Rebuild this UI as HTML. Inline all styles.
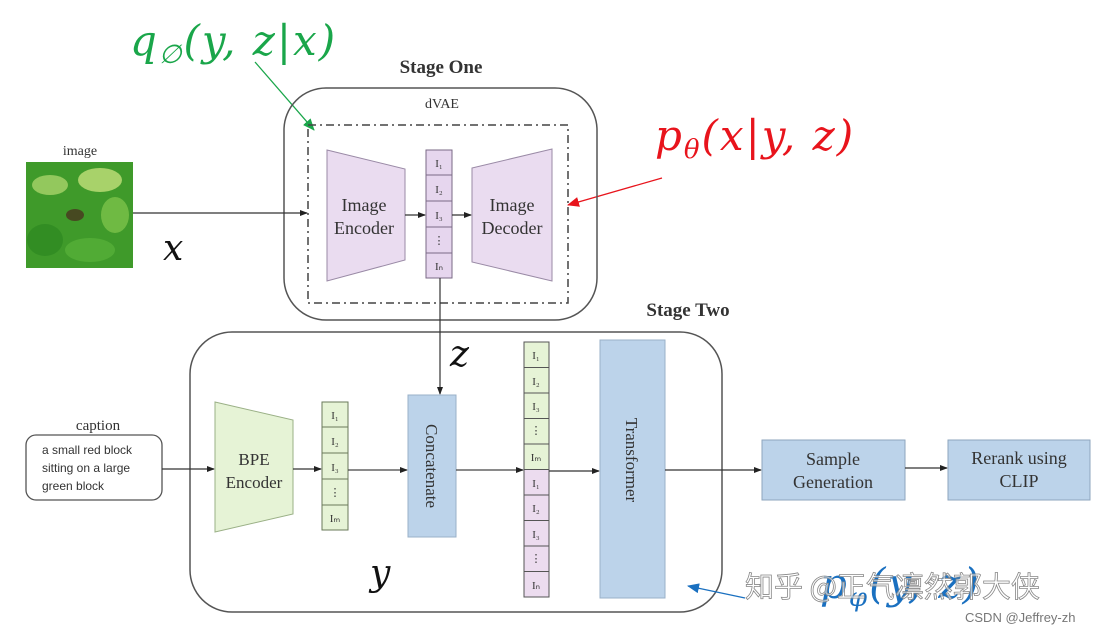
<!DOCTYPE html>
<html><head><meta charset="utf-8"><style>
html,body{margin:0;padding:0;background:#fff;}
svg{display:block;}
.s{font-family:"Liberation Serif",serif;fill:#333;}
.m{font-family:"DejaVu Serif","Liberation Serif",serif;font-style:italic;}
</style></head><body>
<svg width="1106" height="633" viewBox="0 0 1106 633" xmlns="http://www.w3.org/2000/svg">
<defs>
<marker id="a" markerWidth="8" markerHeight="8" refX="7" refY="4" orient="auto" markerUnits="userSpaceOnUse"><path d="M0,1 L8,4 L0,7z" fill="#222"/></marker>
<marker id="g" markerWidth="12" markerHeight="12" refX="11" refY="6" orient="auto" markerUnits="userSpaceOnUse"><path d="M0,1 L12,6 L0,11z" fill="#1aa64a"/></marker>
<marker id="r" markerWidth="12" markerHeight="12" refX="11" refY="6" orient="auto" markerUnits="userSpaceOnUse"><path d="M0,1 L12,6 L0,11z" fill="#e8141c"/></marker>
<marker id="b" markerWidth="12" markerHeight="12" refX="11" refY="6" orient="auto" markerUnits="userSpaceOnUse"><path d="M0,1 L12,6 L0,11z" fill="#1a70c0"/></marker>
</defs>

<text x="130" y="55" class="m" font-size="42" letter-spacing="2" fill="#1aa64a">q<tspan font-size="26" dy="8">∅</tspan><tspan dy="-8">(y, z|x)</tspan></text>
<line x1="255" y1="62" x2="314" y2="130" stroke="#1aa64a" stroke-width="1.3" marker-end="url(#g)"/>
<text x="655" y="150" class="m" font-size="42" letter-spacing="2" fill="#e8141c">p<tspan font-size="26" dy="8">θ</tspan><tspan dy="-8">(x|y, z)</tspan></text>
<line x1="662" y1="178" x2="568" y2="205" stroke="#e8141c" stroke-width="1.3" marker-end="url(#r)"/>

<text x="441" y="73" class="s" font-size="19" font-weight="bold" text-anchor="middle" fill="#222">Stage One</text>
<rect x="284" y="88" width="313" height="232" rx="42" fill="none" stroke="#555" stroke-width="1.5"/>
<text x="442" y="108" class="s" font-size="14" text-anchor="middle">dVAE</text>
<rect x="308" y="125" width="260" height="178" fill="none" stroke="#444" stroke-width="1.5" stroke-dasharray="8,4,2,4"/>
<polygon points="327,150 405,169 405,260 327,281" fill="#eadcf0" stroke="#9a8aa6"/>
<text x="364" y="211" class="s" font-size="18" text-anchor="middle">Image</text>
<text x="364" y="234" class="s" font-size="18" text-anchor="middle">Encoder</text>
<polygon points="472,168 552,149 552,281 472,262" fill="#eadcf0" stroke="#9a8aa6"/>
<text x="512" y="211" class="s" font-size="18" text-anchor="middle">Image</text>
<text x="512" y="234" class="s" font-size="18" text-anchor="middle">Decoder</text>
<g stroke="#7a6a86" fill="#e6d6ee">
<rect x="426" y="150" width="26" height="25"/><rect x="426" y="175" width="26" height="26"/><rect x="426" y="201" width="26" height="26"/><rect x="426" y="227" width="26" height="26"/><rect x="426" y="253" width="26" height="25"/>
</g>
<g class="s" font-size="11" text-anchor="middle"><text x="439" y="167">I₁</text><text x="439" y="193">I₂</text><text x="439" y="219">I₃</text><text x="439" y="244">⋮</text><text x="439" y="270">Iₙ</text></g>

<rect x="26" y="162" width="107" height="106" fill="#3f9a2a"/>
<g opacity="0.8">
<ellipse cx="50" cy="185" rx="18" ry="10" fill="#a9d46a"/><ellipse cx="100" cy="180" rx="22" ry="12" fill="#c3e07a"/><ellipse cx="115" cy="215" rx="14" ry="18" fill="#7cc24a"/><ellipse cx="45" cy="240" rx="18" ry="16" fill="#2f8a22"/><ellipse cx="90" cy="250" rx="25" ry="12" fill="#56b038"/><ellipse cx="75" cy="215" rx="9" ry="6" fill="#4a3520"/>
</g>
<text x="80" y="155" class="s" font-size="14" text-anchor="middle">image</text>
<line x1="133" y1="213" x2="307" y2="213" stroke="#333" stroke-width="1.2" marker-end="url(#a)"/>
<line x1="405" y1="215" x2="425" y2="215" stroke="#333" stroke-width="1.2" marker-end="url(#a)"/>
<line x1="452" y1="215" x2="471" y2="215" stroke="#333" stroke-width="1.2" marker-end="url(#a)"/>
<text x="163" y="260" class="m" font-size="36" fill="#111">x</text>

<text x="688" y="316" class="s" font-size="19" font-weight="bold" text-anchor="middle" fill="#222">Stage Two</text>
<rect x="190" y="332" width="532" height="280" rx="42" fill="none" stroke="#555" stroke-width="1.5"/>
<line x1="440" y1="278" x2="440" y2="394" stroke="#333" stroke-width="1.2" marker-end="url(#a)"/>
<text x="450" y="366" class="m" font-size="36" fill="#111">z</text>

<text x="98" y="430" class="s" font-size="15" text-anchor="middle">caption</text>
<rect x="26" y="435" width="136" height="65" rx="10" fill="#fff" stroke="#555" stroke-width="1.3"/>
<g font-family="Liberation Sans,sans-serif" font-size="12" fill="#333">
<text x="42" y="454">a small red block</text><text x="42" y="472">sitting on a large</text><text x="42" y="490">green block</text></g>
<line x1="162" y1="469" x2="214" y2="469" stroke="#333" stroke-width="1.2" marker-end="url(#a)"/>

<polygon points="215,402 293,420 293,514 215,532" fill="#e6f3d6" stroke="#9ab086"/>
<text x="254" y="465" class="s" font-size="17" text-anchor="middle">BPE</text>
<text x="254" y="488" class="s" font-size="17" text-anchor="middle">Encoder</text>
<line x1="293" y1="469" x2="321" y2="469" stroke="#333" stroke-width="1.2" marker-end="url(#a)"/>
<g stroke="#6a7a5a" fill="#e6f3d6">
<rect x="322" y="402" width="26" height="25"/><rect x="322" y="427" width="26" height="26"/><rect x="322" y="453" width="26" height="26"/><rect x="322" y="479" width="26" height="26"/><rect x="322" y="505" width="26" height="25"/>
</g>
<g class="s" font-size="11" text-anchor="middle"><text x="335" y="419">I₁</text><text x="335" y="445">I₂</text><text x="335" y="471">I₃</text><text x="335" y="496">⋮</text><text x="335" y="522">Iₘ</text></g>
<line x1="348" y1="470" x2="407" y2="470" stroke="#444" stroke-width="1.2" marker-end="url(#a)"/>

<rect x="408" y="395" width="48" height="142" fill="#bcd3ea" stroke="#9ab0c8"/>
<text transform="translate(432,466) rotate(90)" class="s" font-size="17" text-anchor="middle" dy="6">Concatenate</text>
<line x1="456" y1="470" x2="523" y2="470" stroke="#444" stroke-width="1.2" marker-end="url(#a)"/>

<g stroke="#555">
<rect x="524" y="342" width="25" height="25.5" fill="#e6f3d6"/><rect x="524" y="367.5" width="25" height="25.5" fill="#e6f3d6"/><rect x="524" y="393" width="25" height="25.5" fill="#e6f3d6"/><rect x="524" y="418.5" width="25" height="25.5" fill="#e6f3d6"/><rect x="524" y="444" width="25" height="25.5" fill="#e6f3d6"/>
<rect x="524" y="469.5" width="25" height="25.5" fill="#ecdcef"/><rect x="524" y="495" width="25" height="25.5" fill="#ecdcef"/><rect x="524" y="520.5" width="25" height="25.5" fill="#ecdcef"/><rect x="524" y="546" width="25" height="25.5" fill="#ecdcef"/><rect x="524" y="571.5" width="25" height="25.5" fill="#ecdcef"/>
</g>
<g class="s" font-size="11" text-anchor="middle"><text x="536" y="359">I₁</text><text x="536" y="385">I₂</text><text x="536" y="410">I₃</text><text x="536" y="434">⋮</text><text x="536" y="461">Iₘ</text><text x="536" y="487">I₁</text><text x="536" y="512">I₂</text><text x="536" y="538">I₃</text><text x="536" y="562">⋮</text><text x="536" y="589">Iₙ</text></g>
<line x1="549" y1="471" x2="599" y2="471" stroke="#333" stroke-width="1.2" marker-end="url(#a)"/>

<rect x="600" y="340" width="65" height="258" fill="#bcd3ea" stroke="#9ab0c8"/>
<text transform="translate(632,460) rotate(90)" class="s" font-size="17" text-anchor="middle" dy="6">Transformer</text>
<line x1="665" y1="470" x2="761" y2="470" stroke="#333" stroke-width="1.2" marker-end="url(#a)"/>

<rect x="762" y="440" width="143" height="60" fill="#bcd3ea" stroke="#8ea6be"/>
<text x="833" y="465" class="s" font-size="18" text-anchor="middle">Sample</text>
<text x="833" y="488" class="s" font-size="18" text-anchor="middle">Generation</text>
<line x1="905" y1="468" x2="947" y2="468" stroke="#333" stroke-width="1.2" marker-end="url(#a)"/>
<rect x="948" y="440" width="142" height="60" fill="#bcd3ea" stroke="#8ea6be"/>
<text x="1019" y="464" class="s" font-size="18" text-anchor="middle">Rerank using</text>
<text x="1019" y="487" class="s" font-size="18" text-anchor="middle">CLIP</text>

<text x="370" y="585" class="m" font-size="36" fill="#111">y</text>

<line x1="745" y1="598" x2="688" y2="586" stroke="#1a70c0" stroke-width="1.3" marker-end="url(#b)"/>
<text x="820" y="598" class="m" font-size="42" letter-spacing="2" fill="#1a70c0">p<tspan font-size="26" dy="8">φ</tspan><tspan dy="-8">(y, z)</tspan></text>
<text x="745" y="597" font-family="Noto Sans CJK SC,sans-serif" font-size="29" fill="#fff" fill-opacity="0.6" stroke="#888" stroke-width="0.8">知乎 @正气凛然郭大侠</text>
<text x="965" y="622" font-family="Liberation Sans,sans-serif" font-size="13" fill="#777">CSDN @Jeffrey-zh</text>
</svg>
</body></html>
